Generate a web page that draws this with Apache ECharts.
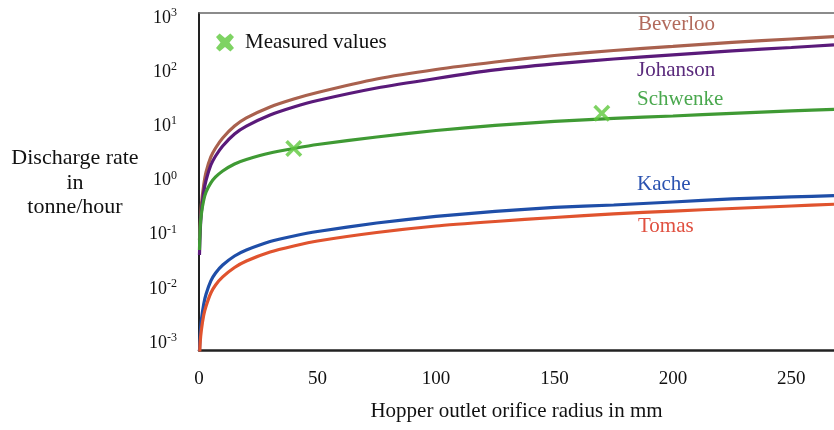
<!DOCTYPE html>
<html>
<head>
<meta charset="utf-8">
<script src="https://cdn.jsdelivr.net/npm/echarts@6/dist/echarts.min.js"></script>
<style>
html,body{margin:0;padding:0;background:#fff;}
#chart{width:834px;height:430px;}
</style>
</head>
<body>
<div id="chart"></div>
<script>
// Hopper outlet orifice radius (mm)
const radius = [0.2, 0.5, 1, 2, 3, 5, 7, 10, 15, 20, 30, 40, 50, 75, 100, 125, 150, 175, 200, 225, 250, 268];
// Discharge rate (tonne/hour)
const beverloo = [0.0798, 0.151, 0.353, 0.826, 1.44, 2.72, 3.98, 6.09, 10.1, 14.3, 22.8, 32.0, 42.2, 74.8, 112, 154, 203, 251, 298, 353, 409, 452];
const johanson = [0.0422, 0.112, 0.262, 0.614, 1.02, 1.93, 2.83, 4.34, 7.22, 10.1, 16.2, 22.8, 30.0, 51.0, 76.4, 110, 142, 175, 208, 246, 285, 318];
const schwenke = [0.052, 0.133, 0.241, 0.437, 0.614, 0.90, 1.16, 1.50, 2.02, 2.44, 3.22, 3.90, 4.62, 6.35, 8.37, 10.4, 12.3, 14.0, 15.5, 17.3, 19.2, 20.6];
const kache = [0.0007, 0.00141, 0.00266, 0.00525, 0.00804, 0.0140, 0.0196, 0.0275, 0.0404, 0.0521, 0.0748, 0.0946, 0.1145, 0.164, 0.217, 0.268, 0.318, 0.353, 0.401, 0.456, 0.497, 0.525];
const tomas = [0.0005, 0.00104, 0.00174, 0.00329, 0.00483, 0.00838, 0.0118, 0.0166, 0.0248, 0.0327, 0.0479, 0.0618, 0.0764, 0.1096, 0.1445, 0.175, 0.2075, 0.241, 0.273, 0.304, 0.338, 0.364];
// Measured values
const measuredRadius = [40, 170];
const measuredRate = [3.9, 17.4];
// Axis ticks
const xTicks = [0, 50, 100, 150, 200, 250];
const yTickExponents = [-3, -2, -1, 0, 1, 2, 3];

const FONT = '"Liberation Serif", "Times New Roman", serif';
const xPath = 'path://M3,0 L10,7 L17,0 L20,3 L13,10 L20,17 L17,20 L10,13 L3,20 L0,17 L7,10 L0,3 Z';
const legendPath = 'path://M4,0 L10,5 L16,0 L20,4 L15,10 L20,16 L16,20 L10,15 L4,20 L0,16 L5,10 L0,4 Z';

function pairs(xs, ys) { return xs.map((x, i) => [x, ys[i]]); }

const chart = echarts.init(document.getElementById('chart'), null, {renderer: 'canvas'});

const curveStyle = (color) => ({
  type: 'line', symbol: 'none', smooth: 0.2, clip: true,
  lineStyle: {color: color, width: 3.2}, itemStyle: {color: color},
  emphasis: {disabled: true}, z: 3
});

const txt = (text, x, y, color, align) => ({
  type: 'text', x: x, y: y,
  style: {text: text, font: '21px ' + FONT, fill: color, textAlign: align || 'left', textVerticalAlign: 'middle'}
});

chart.setOption({
  animation: false,
  backgroundColor: '#fff',
  grid: {left: 199, right: 0, top: 13, bottom: 80, containLabel: false},
  legend: {
    left: 216, top: 32, padding: 0, itemWidth: 18, itemHeight: 18,
    data: [{name: 'Measured values', icon: legendPath}],
    textStyle: {fontFamily: FONT, fontSize: 21, color: '#111', padding: [0, 0, 0, 6]},
    selectedMode: false
  },
  xAxis: [{
    type: 'value', min: xTicks[0], max: 268, interval: 50,
    axisLine: {show: true, lineStyle: {color: '#222', width: 2.5}},
    axisTick: {show: false}, splitLine: {show: false},
    axisLabel: {fontFamily: FONT, fontSize: 19, color: '#111', margin: 20, showMaxLabel: false,
      formatter: v => (xTicks.indexOf(v) >= 0 ? String(v) : '')},
    name: 'Hopper outlet orifice radius in mm', nameLocation: 'middle', nameGap: 51,
    nameTextStyle: {fontFamily: FONT, fontSize: 21, color: '#111'}
  }, {
    type: 'value', position: 'top', min: 0, max: 268,
    axisLine: {show: true, onZero: false, lineStyle: {color: '#666', width: 1.5}},
    axisTick: {show: false}, axisLabel: {show: false}, splitLine: {show: false}
  }],
  yAxis: {
    type: 'log', logBase: 10, min: 0.000743, max: 1235,
    axisLine: {show: true, lineStyle: {color: '#222', width: 2}},
    axisTick: {show: false}, splitLine: {show: false}, minorTick: {show: false},
    axisLabel: {
      showMinLabel: false, showMaxLabel: false, margin: 22,
      formatter: v => {
        const e = Math.round(Math.log10(v));
        if (yTickExponents.indexOf(e) < 0 || Math.abs(Math.log10(v) - e) > 0.01) return '';
        return '{b|10}{s|' + e + '}';
      },
      rich: {
        b: {fontFamily: FONT, fontSize: 18, color: '#111'},
        s: {fontFamily: FONT, fontSize: 12, color: '#111', padding: [0, 0, 10, 0]}
      }
    }
  },
  graphic: [
    {type: 'text', x: 75, y: 158, style: {text: 'Discharge rate', font: '22px ' + FONT, fill: '#111', textAlign: 'center', textVerticalAlign: 'middle'}},
    {type: 'text', x: 75, y: 183, style: {text: 'in', font: '22px ' + FONT, fill: '#111', textAlign: 'center', textVerticalAlign: 'middle'}},
    {type: 'text', x: 75, y: 207, style: {text: 'tonne/hour', font: '22px ' + FONT, fill: '#111', textAlign: 'center', textVerticalAlign: 'middle'}},
    txt('Beverloo', 638, 24, '#b26a5c'),
    txt('Johanson', 637, 70, '#5a2a7c'),
    txt('Schwenke', 637, 99, '#4aa84e'),
    txt('Kache', 637, 184, '#2a52b0'),
    txt('Tomas', 638, 226, '#e05040')
  ],
  series: [
    Object.assign(curveStyle('#a9614e'), {name: 'Beverloo', data: pairs(radius, beverloo)}),
    Object.assign(curveStyle('#5a1a7a'), {name: 'Johanson', data: pairs(radius, johanson)}),
    Object.assign(curveStyle('#3f9a34'), {name: 'Schwenke', data: pairs(radius, schwenke)}),
    Object.assign(curveStyle('#1f4ea8'), {name: 'Kache', data: pairs(radius, kache)}),
    Object.assign(curveStyle('#e0532e'), {name: 'Tomas', data: pairs(radius, tomas)}),
    {
      name: 'Measured values', type: 'scatter', data: pairs(measuredRadius, measuredRate),
      symbol: xPath, symbolSize: 17, itemStyle: {color: '#5ec83c'}, z: 5,
      emphasis: {disabled: true}
    }
  ]
});
</script>
</body>
</html>
